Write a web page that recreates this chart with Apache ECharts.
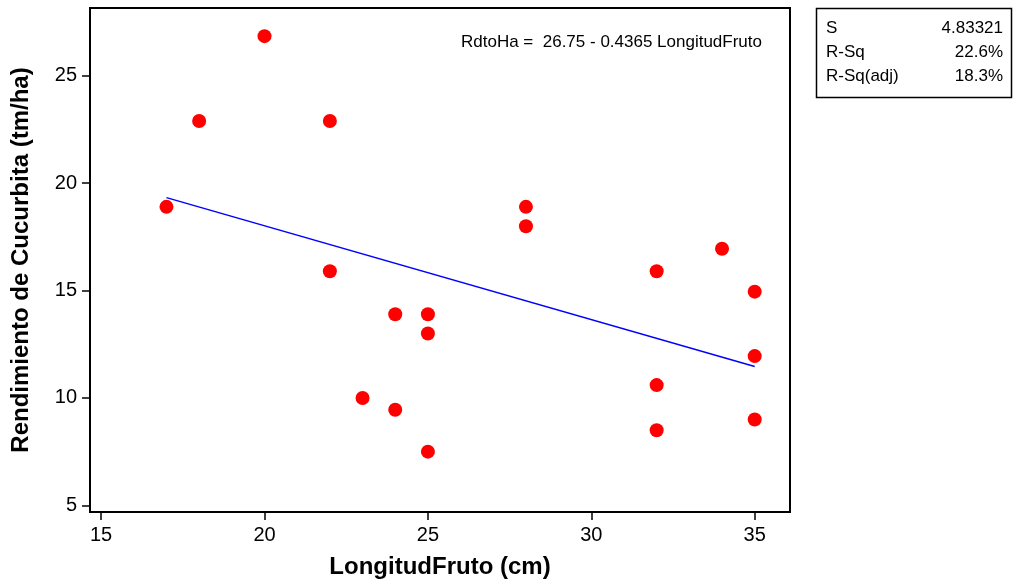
<!DOCTYPE html>
<html>
<head>
<meta charset="utf-8">
<script src="https://cdn.jsdelivr.net/npm/echarts@6/dist/echarts.min.js"></script>
<style>
html,body{margin:0;padding:0;background:#fff;}
#chart{width:1016px;height:587px;}
</style>
</head>
<body>
<div id="chart"></div>
<script>
// Data
const longitud = [17, 18, 20, 22, 22, 23, 24, 24, 25, 25, 25, 28, 28, 32, 32, 32, 34, 35, 35, 35];
const rendimiento = [18.9, 22.9, 26.85, 22.9, 15.9, 10.0, 13.9, 9.45, 13.9, 13.0, 7.5, 18.9, 18.0, 15.9, 10.6, 8.5, 16.95, 14.95, 11.95, 9.0];
const fitX = [17, 35];
const fitY = [19.33, 11.47];
const xTicks = [15, 20, 25, 30, 35];
const yTicks = [5, 10, 15, 20, 25];
const equationText = 'RdtoHa =  26.75 - 0.4365 LongitudFruto';
const statLabels = ['S', 'R-Sq', 'R-Sq(adj)'];
const statValues = ['4.83321', '22.6%', '18.3%'];

const FONT = '"Liberation Sans", Arial, sans-serif';
const chart = echarts.init(document.getElementById('chart'), null, {renderer: 'canvas'});

const graphics = [
  {type: 'rect', shape: {x: 816.5, y: 8.5, width: 195, height: 89}, style: {fill: '#fff', stroke: '#000', lineWidth: 1.5}},
  {type: 'text', x: 762, y: 42, style: {text: equationText, font: '17px ' + FONT, fill: '#000', textAlign: 'right', textVerticalAlign: 'middle'}}
];
statLabels.forEach((s, i) => {
  graphics.push({type: 'text', x: 826, y: 28 + i * 24, style: {text: s, font: '17px ' + FONT, fill: '#000', textAlign: 'left', textVerticalAlign: 'middle'}});
  graphics.push({type: 'text', x: 1003, y: 28 + i * 24, style: {text: statValues[i], font: '17px ' + FONT, fill: '#000', textAlign: 'right', textVerticalAlign: 'middle'}});
});

chart.setOption({
  animation: false,
  backgroundColor: '#fff',
  grid: {left: 90, top: 8, right: 226, bottom: 75, show: true, borderColor: '#000', borderWidth: 2, containLabel: false},
  xAxis: {
    type: 'value', min: 14.66, max: 36.08,
    name: 'LongitudFruto (cm)', nameLocation: 'middle', nameGap: 43,
    nameTextStyle: {fontFamily: FONT, fontWeight: 'bold', fontSize: 24, color: '#000'},
    axisLine: {show: true, onZero: false, lineStyle: {color: '#000', width: 2}},
    axisTick: {show: true, length: 8, lineStyle: {color: '#000', width: 1.5}, customValues: xTicks},
    axisLabel: {fontFamily: FONT, fontSize: 20, color: '#000', margin: 13, customValues: xTicks},
    splitLine: {show: false}
  },
  yAxis: {
    type: 'value', min: 4.69, max: 28.16,
    name: 'Rendimiento de Cucurbita (tm/ha)', nameLocation: 'middle', nameGap: 57, nameRotate: 90,
    nameTextStyle: {fontFamily: FONT, fontWeight: 'bold', fontSize: 24, color: '#000'},
    axisLine: {show: true, onZero: false, lineStyle: {color: '#000', width: 2}},
    axisTick: {show: true, length: 8, lineStyle: {color: '#000', width: 1.5}, customValues: yTicks},
    axisLabel: {fontFamily: FONT, fontSize: 20, color: '#000', margin: 13, customValues: yTicks},
    splitLine: {show: false}
  },
  series: [
    {
      type: 'line', data: fitX.map((x, i) => [x, fitY[i]]),
      showSymbol: false, symbol: 'none', lineStyle: {color: '#0000ff', width: 1.5}, z: 2, silent: true
    },
    {
      type: 'scatter', data: longitud.map((x, i) => [x, rendimiento[i]]),
      symbol: 'circle', symbolSize: 14, itemStyle: {color: '#ff0000', opacity: 1}, z: 3
    }
  ],
  graphic: graphics
});
</script>
</body>
</html>
